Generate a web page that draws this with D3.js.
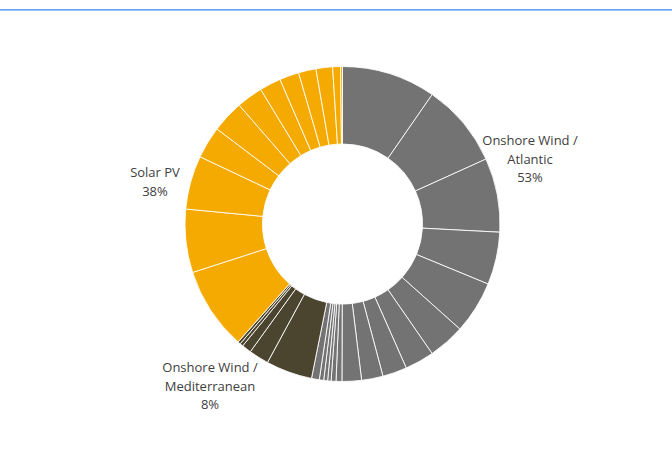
<!DOCTYPE html>
<meta charset="utf-8">
<style>
	body { margin: 0; background: #fff; }
	svg { display: block; }
	.lbl { font-family: "Open Sans", "Liberation Sans", sans-serif; font-size: 13px; fill: #404040; }
</style>
<script src="https://cdn.jsdelivr.net/npm/d3@7"></script>
<body>
<div id="chart"></div>
<script>
	// slice shares (percent of total), clockwise from 12 o'clock
	let atlantic = [9.65, 8.6, 7.6, 5.4, 5.4, 3.75, 3.0, 2.5, 2.2, 2.0, 0.6, 0.5, 0.35, 0.4, 0.45, 0.8];
	let mediterranean = [4.75, 2.05, 0.97, 0.33, 0.28];
	let solar = [8.5, 6.5, 5.5, 3.3, 3.3, 2.7, 2.2, 2.0, 1.8, 1.7, 0.8, 0.2];

	let groups = ["Onshore Wind / Atlantic", "Onshore Wind / Mediterranean", "Solar PV"];
	let groupColors = ["#737373", "#4b452f", "#f4aa00"];
	let groupLabels = [
		["Onshore Wind /", "Atlantic", "53%"],
		["Onshore Wind /", "Mediterranean", "8%"],
		["Solar PV", "38%"]
	];

	let width = 672, height = 454;
	let cx = 342.5, cy = 224;
	let outer = 157.5, inner = 80;

	let svg = d3.select("#chart").append("svg")
		.attr("width", width)
		.attr("height", height);

	// thin blue rule across the top
	svg.append("rect")
		.attr("x", 0).attr("y", 9)
		.attr("width", width).attr("height", 1.7)
		.attr("fill", "#6aa6f8");

	let slices = [];
	[atlantic, mediterranean, solar].forEach((arr, g) => {
		arr.forEach(v => slices.push({ group: g, value: v }));
	});

	let pie = d3.pie().sort(null).value(d => d.value);
	let arc = d3.arc().innerRadius(inner).outerRadius(outer);

	let color = d3.scaleOrdinal().domain(d3.range(groups.length)).range(groupColors);

	let g = svg.append("g").attr("transform", `translate(${cx},${cy})`);

	g.selectAll("path")
		.data(pie(slices))
		.join("path")
		.attr("d", arc)
		.attr("fill", d => color(d.data.group))
		.attr("stroke", "#fff")
		.attr("stroke-opacity", 0.85)
		.attr("stroke-width", 1);

	// label anchors (centre x, first baseline y)
	let labelPos = [[530, 145], [210, 372], [155, 177]];
	let lineH = 18.5;

	groupLabels.forEach((lines, i) => {
		let t = svg.append("text")
			.attr("class", "lbl")
			.attr("text-anchor", "middle");
		lines.forEach((s, j) => {
			t.append("tspan")
				.attr("x", labelPos[i][0])
				.attr("y", labelPos[i][1] + j * lineH)
				.text(s);
		});
	});
</script>
</body>
